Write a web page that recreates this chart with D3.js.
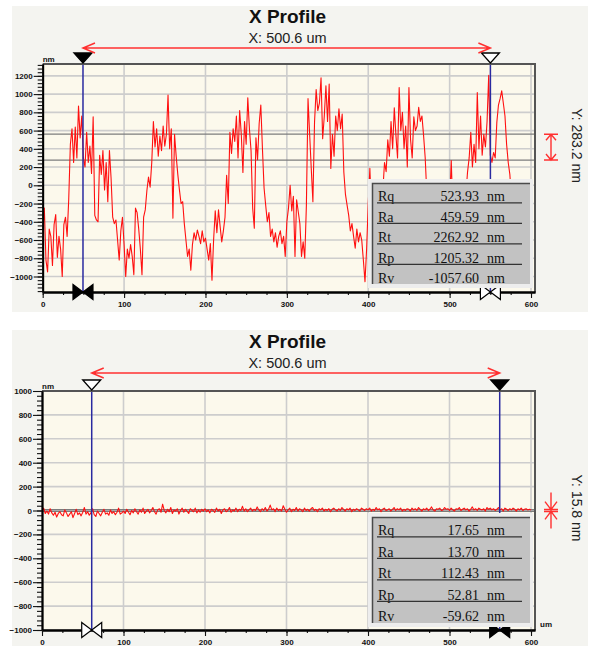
<!DOCTYPE html>
<html><head><meta charset="utf-8">
<script src="https://cdn.jsdelivr.net/npm/d3@7"></script>
<style>body{margin:0;background:#fff;} svg{display:block}</style>
</head><body>
<svg id="c" width="592" height="646"></svg>
<script>
// ---------------- DATA ----------------
const xStep = 2; // um between profile samples
const topProfile = [
 -520,-250,-820,-950,-480,-560,-880,-430,-320,-790,
 -560,-700,-1000,-430,-350,-560,-150,450,620,250,
 640,300,870,520,760,300,200,580,250,430,
 130,750,-330,-380,-400,330,120,380,-50,250,
 -180,380,80,-350,-420,-380,-600,-820,-500,-350,
 -650,-1000,-700,-800,-650,-780,-980,-250,-300,-480,
 -700,-980,-350,-270,-60,90,-20,250,700,420,
 620,320,540,380,650,430,560,990,400,620,
 -360,560,320,120,-50,-200,-180,-420,-600,-780,
 -700,-930,-650,-520,-600,-490,-560,-640,-500,-620,
 -580,-700,-820,-640,-1040,-600,-280,-520,-270,-450,
 -620,-500,-350,110,-200,580,350,620,480,760,
 300,820,560,140,700,450,960,620,380,-250,
 -470,520,280,680,880,400,-30,-220,-400,-300,
 -560,-480,-620,-520,-680,-560,-500,-640,-560,-780,
 -400,-250,0,-280,-120,-780,-160,-290,-420,-780,
 -620,-800,-220,950,560,180,-180,690,1050,820,
 900,1180,510,760,1090,700,1110,185,560,320,
 760,600,840,620,780,145,-100,-218,-330,-500,
 -420,-560,-690,-480,-620,-520,-600,-820,-1058,-700,
 -200,185,-300,-500,-450,-380,-250,-100,50,-50,
 250,150,500,320,700,400,850,550,300,1072,
 600,800,400,650,200,1072,500,300,750,600,
 650,854,700,760,545,300,-100,-350,-500,-600,
 -550,-700,-650,-500,-600,-750,-550,-400,-300,-450,
 -200,272,-300,-500,-650,-550,-700,-600,-400,-250,
 -100,145,300,580,200,450,250,1018,400,760,
 330,560,420,700,1205,330,250,360,300,690,
 880,950,1036,900,760,450,250,120,-150,-350,
 -500,-450,-600,-400,-550,-350,-450,-300,-250,-200,
 -150
];
const bottomProfile = [
 -10,20,-25,-5,-30,15,-20,-40,-15,-55,-25,-10,-35,-45,5,-20,-50,-30,-10,-60,-25,10,-35,-20,-45,
 -15,25,-30,-10,-40,-20,15,-35,-50,-5,-25,-45,-15,10,-30,-20,-40,5,-25,-10,-35,-15,20,-30,-20,
 -5,-25,10,-15,-35,0,-20,15,-10,-30,5,-15,20,-25,-5,10,-20,0,25,-10,-30,5,15,-15,53,
 0,-20,10,-10,25,-25,5,-5,15,-30,0,20,-15,10,-5,-25,15,0,-10,20,-20,5,-15,10,-5,
 15,-10,5,-20,10,0,-15,20,-5,10,-25,5,15,-10,0,25,-15,5,-5,20,-10,10,0,35,-5,
 15,-10,5,20,-5,10,0,30,5,-10,15,0,25,-5,10,45,5,15,-10,20,0,10,-5,40,10,
 -15,5,20,-10,10,0,25,-5,15,5,-10,20,0,10,-5,15,25,0,10,-10,15,5,20,-5,10,
 0,15,-10,10,20,5,-5,15,0,25,10,-5,15,5,20,-10,10,0,15,5,-5,20,10,0,15,
 5,20,-5,10,0,25,5,15,-10,10,20,0,5,15,-5,10,25,0,15,5,20,-5,10,0,15,
 10,-5,20,5,15,0,25,10,-5,15,5,20,0,10,30,5,-5,15,10,20,0,5,25,10,15,
 0,20,5,-5,15,10,25,0,10,20,5,15,-5,10,30,5,15,0,20,10,5,15,-5,25,10,
 20,5,15,0,10,25,5,15,-5,20,10,0,15,5,20,10,-5,15,5,20,0,10,15,5,10,
 5
];
const xTicks = [0,100,200,300,400,500,600];
const xMinorStep = 25;
const topYTicks = [-1000,-800,-600,-400,-200,0,200,400,600,800,1000,1200];
const bottomYTicks = [-1000,-800,-600,-400,-200,0,200,400,600,800,1000];
const yMinorStep = 40;
const statLabels = ["Rq","Ra","Rt","Rp","Rv"];
const topStats = ["523.93","459.59","2262.92","1205.32","-1057.60"];
const bottomStats = ["17.65","13.70","112.43","52.81","-59.62"];
const statUnit = "nm";
const topCursorsX = [49.5, 550.1];
const bottomCursorsX = [61.0, 561.6];
const topCursorsY = [560, 276.8];
const bottomCursorsY = [7.9, -7.9];
const titleText = "X Profile";
const topXLabel = "X: 500.6 um";
const bottomXLabel = "X: 500.6 um";
const topYLabel = "Y: 283.2 nm";
const bottomYLabel = "Y: 15.8 nm";

// ---------------- DRAW ----------------
const svg = d3.select("#c");
const FONT = "'Liberation Sans', Arial, sans-serif";
const SERIF = "'Liberation Serif', 'Times New Roman', serif";

function tri(cx, yTop) { return `M${cx-9},${yTop}L${cx+9},${yTop}L${cx},${yTop+10}Z`; }
function bow(cx, cy) { return `M${cx-10},${cy-7.5}L${cx-10},${cy+7.5}L${cx},${cy}Z M${cx+10},${cy-7.5}L${cx+10},${cy+7.5}L${cx},${cy}Z`; }

function panel(o, idx) {
  const g = svg.append("g");
  g.append("rect").attr("x",12).attr("y",o.bgY).attr("width",576).attr("height",o.bgH).attr("fill","#f4f4f0");
  const x = d3.scaleLinear().domain([0, 604.9]).range([o.left, o.right]);
  const y = d3.scaleLinear().domain(o.yDomain).range([o.bottom, o.top]);

  g.append("rect").attr("x",o.left).attr("y",o.top).attr("width",o.right-o.left).attr("height",o.bottom-o.top).attr("fill","#fcf9ec");
  // grid
  g.append("g").selectAll("line").data(xTicks.filter(d=>d>0)).join("line")
    .attr("x1",d=>x(d)).attr("x2",d=>x(d)).attr("y1",o.top).attr("y2",o.bottom)
    .attr("stroke","#cdcdcd").attr("stroke-width",1.6);
  g.append("g").selectAll("line").data(o.yTicks).join("line")
    .attr("x1",o.left).attr("x2",o.right).attr("y1",d=>y(d)).attr("y2",d=>y(d))
    .attr("stroke","#cdcdcd").attr("stroke-width",1.6);
  // horizontal cursors
  g.append("g").selectAll("line").data(o.cy).join("line")
    .attr("x1",o.left).attr("x2",o.right).attr("y1",d=>y(d)).attr("y2",d=>y(d))
    .attr("stroke","#7c7c7c").attr("stroke-width",1.3);
  // data
  const cid = "clip"+idx;
  svg.append("defs").append("clipPath").attr("id",cid).append("rect")
    .attr("x",o.left).attr("y",o.top).attr("width",o.right-o.left).attr("height",o.bottom-o.top);
  const line = d3.line().x((d,i)=>x(i*xStep)).y(d=>y(d));
  g.append("path").datum(o.data).attr("clip-path",`url(#${cid})`).attr("d",line)
    .attr("fill","none").attr("stroke","#ff1010").attr("stroke-width",1.1).attr("stroke-linejoin","round");
  // vertical cursors
  g.append("g").selectAll("line").data(o.cx).join("line")
    .attr("x1",d=>x(d)).attr("x2",d=>x(d)).attr("y1",o.top).attr("y2",o.bottom)
    .attr("stroke","#2a2aa0").attr("stroke-width",1.5);
  // frame top/right
  g.append("path").attr("d",`M${o.left},${o.top}H${o.right}V${o.bottom}`).attr("fill","none")
    .attr("stroke","#555").attr("stroke-width",2);
  // axes
  const minorY = d3.range(Math.ceil(o.yDomain[0]/yMinorStep)*yMinorStep, o.yDomain[1], yMinorStep);
  const ax1 = g.append("g").attr("transform",`translate(${o.left},0)`)
    .call(d3.axisLeft(y).tickValues(minorY).tickSize(5).tickSizeOuter(0).tickFormat(""));
  const ax2 = g.append("g").attr("transform",`translate(${o.left},0)`)
    .call(d3.axisLeft(y).tickValues(o.yTicks).tickSize(9).tickSizeOuter(0).tickPadding(1).tickFormat(d3.format("d")));
  const minorX = d3.range(0, 605, xMinorStep);
  const ax3 = g.append("g").attr("transform",`translate(0,${o.bottom})`)
    .call(d3.axisBottom(x).tickValues(minorX).tickSize(3).tickSizeOuter(0).tickFormat(""));
  const ax4 = g.append("g").attr("transform",`translate(0,${o.bottom})`)
    .call(d3.axisBottom(x).tickValues(xTicks).tickSize(6).tickSizeOuter(0).tickPadding(3).tickFormat(d3.format("d")));
  [ax1,ax2,ax3,ax4].forEach(a=>{
    a.selectAll("path.domain").attr("stroke","#000").attr("stroke-width",1.8);
    a.selectAll(".tick line").attr("stroke","#111").attr("stroke-width",1.1);
    a.selectAll("text").attr("font-family",FONT).attr("font-size","8px").attr("font-weight","bold").attr("fill","#111");
  });
  // unit labels
  g.append("text").attr("x",o.left).attr("y",o.top-2).text("nm")
    .attr("font-family",FONT).attr("font-size","8px").attr("font-weight","bold").attr("fill","#111");
  if (o.xUnit) {
    g.append("text").attr("x",540).attr("y",o.bottom-3).text("um")
      .attr("font-family",FONT).attr("font-size","8px").attr("font-weight","bold").attr("fill","#111");
  }
  // markers
  o.cx.forEach((c,i)=>{
    const filled = o.topFilled[i];
    g.append("path").attr("d",tri(x(c), o.top-11))
      .attr("fill",filled?"#000":"#fff").attr("stroke","#000").attr("stroke-width",1.3);
    const bf = o.botFilled[i];
    g.append("path").attr("d",bow(x(c), o.bottom))
      .attr("fill",bf?"#000":"#fff").attr("stroke","#000").attr("stroke-width",1.2);
  });
  // stats box
  const bx=372, bw=158, by=o.boxTop, bh=o.boxH;
  g.append("rect").attr("x",bx-4).attr("y",by-4).attr("width",bw+7).attr("height",bh+8).attr("fill","#ededed");
  g.append("rect").attr("x",bx).attr("y",by).attr("width",bw).attr("height",bh).attr("fill","#c2c2c2");
  g.append("path").attr("d",`M${bx+0.5},${by+bh}V${by+0.5}H${bx+bw}`).attr("fill","none").attr("stroke","#4a4a4a").attr("stroke-width",1.5);
  const rows = g.append("g").selectAll("g").data(statLabels).join("g")
    .attr("transform",(d,i)=>`translate(0,${by+o.rowOff+i*o.rowPitch})`);
  rows.append("text").attr("x",378).text(d=>d)
    .attr("font-family",SERIF).attr("font-size","14px").attr("fill","#111");
  rows.append("text").attr("x",479).attr("text-anchor","end").text((d,i)=>o.stats[i])
    .attr("font-family",SERIF).attr("font-size","14px").attr("fill","#111");
  rows.append("text").attr("x",487).text(statUnit)
    .attr("font-family",SERIF).attr("font-size","14px").attr("fill","#111");
  rows.filter((d,i)=>i<statLabels.length-1).append("line")
    .attr("x1",377).attr("x2",522).attr("y1",1.8).attr("y2",1.8).attr("stroke","#333").attr("stroke-width",1.2);
  // red arrow
  const ay = o.arrowY, ax0 = x(o.cx[0]), ax1p = x(o.cx[1]);
  g.append("path").attr("d",`M${ax0},${ay}H${ax1p} M${ax0+12},${ay-5}L${ax0},${ay}L${ax0+12},${ay+5} M${ax1p-12},${ay-5}L${ax1p},${ay}L${ax1p-12},${ay+5}`)
    .attr("fill","none").attr("stroke","#ff3030").attr("stroke-width",1.5);
  // red Y marker
  const mx = 551, y1 = y(o.cy[0]), y2 = y(o.cy[1]);
  if (o.inward) {
    g.append("path").attr("d",`M${mx},${y1-17}V${y2+17} M${mx-7},${y1}H${mx+7} M${mx-7},${y2}H${mx+7} M${mx-6},${y1-8}L${mx},${y1}L${mx+6},${y1-8} M${mx-6},${y2+8}L${mx},${y2}L${mx+6},${y2+8}`)
      .attr("fill","none").attr("stroke","#ff3030").attr("stroke-width",1.4);
  } else {
    g.append("path").attr("d",`M${mx},${y1}V${y2} M${mx-7},${y1}H${mx+7} M${mx-7},${y2}H${mx+7} M${mx-5},${y1+6}L${mx},${y1}L${mx+5},${y1+6} M${mx-5},${y2-6}L${mx},${y2}L${mx+5},${y2-6}`)
      .attr("fill","none").attr("stroke","#ff3030").attr("stroke-width",1.4);
  }
  // texts
  g.append("text").attr("x",287.5).attr("y",o.titleY).attr("text-anchor","middle").text(titleText)
    .attr("font-family",FONT).attr("font-size","19px").attr("font-weight","bold").attr("fill","#111");
  g.append("text").attr("x",287.5).attr("y",o.titleY+20).attr("text-anchor","middle").text(o.xLabel)
    .attr("font-family",FONT).attr("font-size","14.5px").attr("fill","#222");
  g.append("text").attr("transform",`translate(572,${o.yLabelY}) rotate(90)`).attr("text-anchor","middle").text(o.yLabel)
    .attr("font-family",FONT).attr("font-size","14px").attr("fill","#222");
}

panel({bgY:6,bgH:306,left:42.7,right:535,top:64,bottom:292,yDomain:[-1170,1330],yTicks:topYTicks,
  data:topProfile,cx:topCursorsX,cy:topCursorsY,topFilled:[true,false],botFilled:[true,false],
  boxTop:183,boxH:101,rowOff:18,rowPitch:20.5,stats:topStats,arrowY:48,inward:false,
  titleY:23,xLabel:topXLabel,yLabel:topYLabel,yLabelY:145.5,xUnit:false},0);
panel({bgY:330,bgH:316,left:42,right:535,top:391,bottom:630,yDomain:[-1000,1000],yTicks:bottomYTicks,
  data:bottomProfile,cx:bottomCursorsX,cy:bottomCursorsY,topFilled:[false,true],botFilled:[false,true],
  boxTop:517,boxH:106,rowOff:18,rowPitch:21.5,stats:bottomStats,arrowY:373,inward:true,
  titleY:348,xLabel:bottomXLabel,yLabel:bottomYLabel,yLabelY:508,xUnit:true},1);
</script>
</body></html>
